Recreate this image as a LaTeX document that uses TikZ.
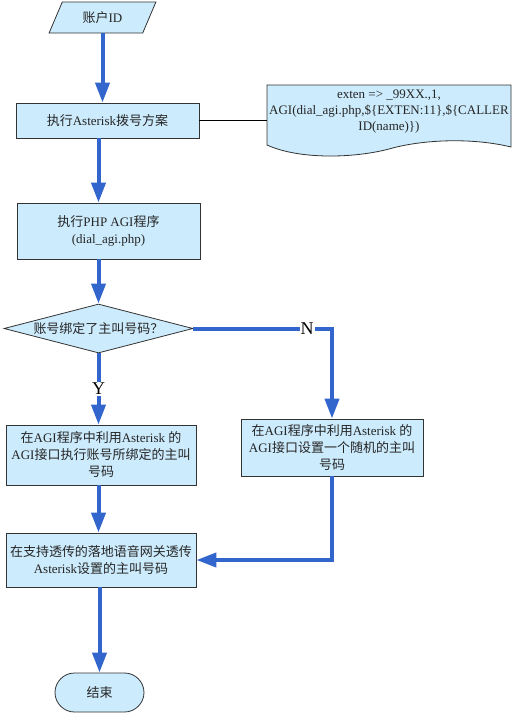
\documentclass[tikz,border=0pt]{standalone}
\usepackage{fontspec}
\setmainfont{Liberation Serif}
\newfontfamily\zh{Noto Sans CJK SC}
\usepackage{xcolor}
\usetikzlibrary{shapes.geometric,shapes.misc,arrows.meta}
\definecolor{boxfill}{RGB}{204,235,252}
\definecolor{flowblue}{RGB}{51,102,204}
\tikzset{
  box/.style={draw=black!80, fill=boxfill, line width=0.8pt, align=center,
    inner sep=2pt, text=black!85, font=\fontsize{13}{17}\selectfont},
  flow/.style={draw=flowblue, line width=4pt, -{Triangle[length=20pt,width=14pt]}},
  lbl/.style={fill=white, inner sep=1pt, text=black, font=\fontsize{18}{20}\selectfont},
}

\begin{document}
\begin{tikzpicture}[x=1pt,y=-1pt]
    \useasboundingbox (0,0) rectangle (530,718);

    % Input
    \node[box, trapezium, trapezium left angle=66, trapezium right angle=114,
      trapezium stretches=true, minimum width=107, minimum height=31] (id) at (102.5,17.5) {{\zh 账户}ID};

    % Dial plan and its code note
    \node[box, minimum width=183, minimum height=35] (plan) at (107.5,120.5) {{\zh 执行}Asterisk{\zh 拨号方案}};
    \draw[draw=black!80, fill=boxfill, line width=0.8pt] (267,85) -- (511,85) -- (511,147)
      .. controls (470,137) and (420,140) .. (389,149)
      .. controls (355,158) and (300,160) .. (267,145) -- cycle;
    \node[align=center, inner sep=0, minimum width=244, minimum height=54, text=black!85,
      font=\fontsize{13}{16}\selectfont] (doc) at (389,112)
      {exten => \_99XX.,1,\\AGI(dial\_agi.php,\$\{EXTEN:11\},\$\{CALLER\\ID(name)\})};
    \draw[black, line width=0.8pt] (plan.east) -- (plan.east -| doc.west);

    % PHP AGI
    \node[box, minimum width=183, minimum height=56] (php) at (108.5,231) {{\zh 执行}PHP AGI{\zh 程序}\\(dial\_agi.php)};

    % Decision
    \node[box, diamond, shape aspect=3.86, minimum width=189, minimum height=49, inner sep=0] (dec) at (98.5,328.5) {{\zh 账号绑定了主叫号码？}};

    % Branches
    \node[box, minimum width=190, minimum height=60] (a1) at (101,455)
      {{\zh 在}AGI{\zh 程序中利用}Asterisk {\zh 的}\\AGI{\zh 接口执行账号所绑定的主叫}\\{\zh 号码}};
    \node[box, minimum width=182, minimum height=57] (rnd) at (332,447.5)
      {{\zh 在}AGI{\zh 程序中利用}Asterisk {\zh 的}\\AGI{\zh 接口设置一个随机的主叫}\\{\zh 号码}};

    % Merge and end
    \node[box, minimum width=190, minimum height=54] (merge) at (101,560)
      {{\zh 在支持透传的落地语音网关透传}\\Asterisk{\zh 设置的主叫号码}};
    \node[box, rounded rectangle, minimum width=93, minimum height=39] (end) at (99.5,692.5) {{\zh 结束}};

    % Flow arrows
    \draw[flow] (id.south) -- (id.south |- plan.north);
    \draw[flow] (plan.south -| dec.north) -- (dec.north |- php.north);
    \draw[flow] (php.south -| dec.north) -- (dec.north);
    \draw[flow] (dec.south) -- node[lbl]{Y} (a1.north -| dec.south);
    \draw[flow] (dec.east) -| node[lbl, pos=0.41]{N} (rnd.north);
    \draw[flow] (a1.south -| dec.south) -- (merge.north -| dec.south);
    \draw[flow] (rnd.south) |- (merge.east);
    \draw[flow] (merge.south -| end.north) -- (end.north);
\end{tikzpicture}
\end{document}
